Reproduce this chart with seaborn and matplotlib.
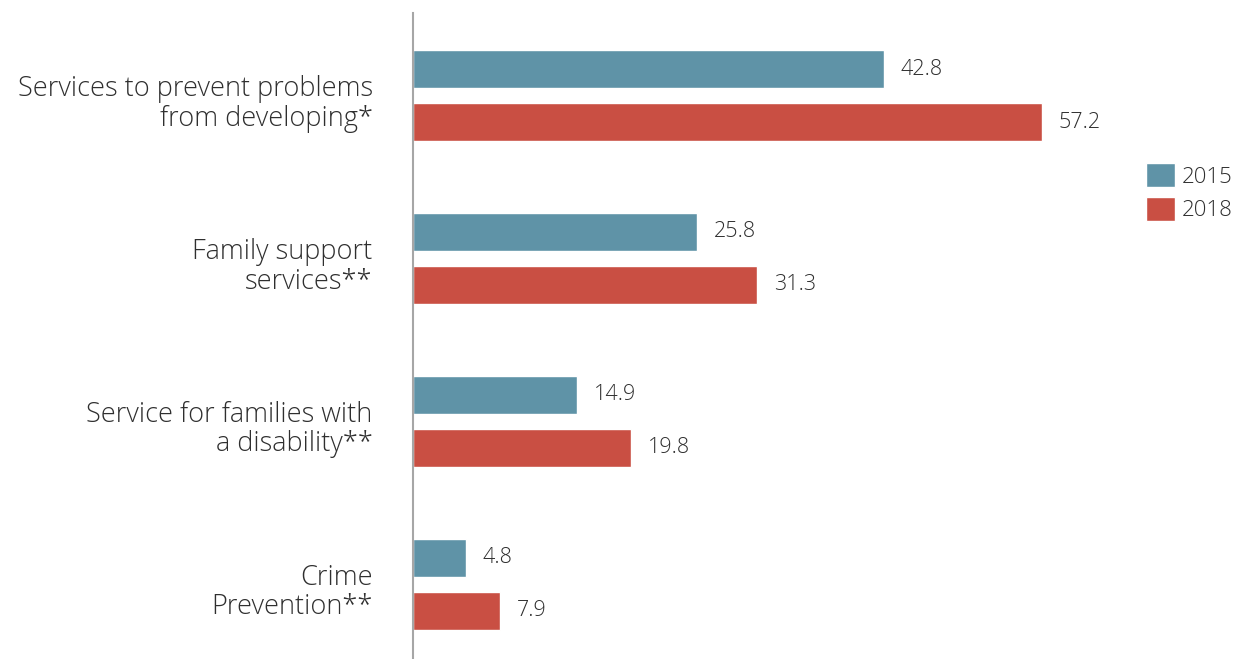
import matplotlib
matplotlib.use("Agg")
import matplotlib.pyplot as plt
import matplotlib.transforms as mtransforms
import seaborn as sns
import pandas as pd

# Chart data
categories = [
    "Services to prevent problems\nfrom developing*",
    "Family support\nservices**",
    "Service for families with\na disability**",
    "Crime\nPrevention**",
]
years = ["2015", "2018"]
values_2015 = [42.8, 25.8, 14.9, 4.8]
values_2018 = [57.2, 31.3, 19.8, 7.9]

df = pd.DataFrame({
    "category": categories * 2,
    "year": [years[0]] * len(categories) + [years[1]] * len(categories),
    "value": values_2015 + values_2018,
})

sns.set_theme(style="white")
plt.rcParams["font.family"] = ["Open Sans", "DejaVu Sans"]
plt.rcParams["font.weight"] = "light"

TEXT = "#2f2f2f"
PALETTE = ["#5f93a7", "#c94f43"]

W, H = 1235, 659
fig = plt.figure(figsize=(W / 100, H / 100), dpi=100)
ax = fig.add_axes([413 / W, 0, 1 - 413 / W, 1 - 13 / H])

sns.barplot(
    data=df, y="category", x="value", hue="year", orient="h",
    palette=PALETTE, saturation=1, width=0.65, gap=0.28, ax=ax,
)

for cont in ax.containers:
    ax.bar_label(cont, fmt="%.1f", padding=12, fontsize=15.5, color=TEXT)

ax.set_xlim(0, (W - 413) / 11.0)
ax.set_ylim(3.46, -0.507)
ax.set_xlabel("")
ax.set_ylabel("")
ax.set_xticks([])

for s in ["top", "right", "bottom"]:
    ax.spines[s].set_visible(False)
ax.spines["left"].set_color("#a6a6a6")
ax.spines["left"].set_linewidth(1.5)

ax.tick_params(axis="y", length=0, pad=29, labelsize=19.5, labelcolor=TEXT)
shift = mtransforms.ScaledTranslation(0, -4 / 100, fig.dpi_scale_trans)
for lbl in ax.get_yticklabels():
    lbl.set_horizontalalignment("right")
    lbl.set_multialignment("right")
    lbl.set_linespacing(1.08)
    lbl.set_transform(lbl.get_transform() + shift)

handles, labels = ax.get_legend_handles_labels()
ax.legend(
    handles, labels, loc="upper left",
    bbox_to_anchor=(1146 / W, 1 - 163 / H), bbox_transform=fig.transFigure,
    frameon=False, fontsize=16, handlelength=1.3, handleheight=1.3,
    handletextpad=0.3, labelspacing=0.42, borderpad=0, borderaxespad=0,
    labelcolor=TEXT,
)

fig.savefig("out.png", dpi=100, facecolor="white")
